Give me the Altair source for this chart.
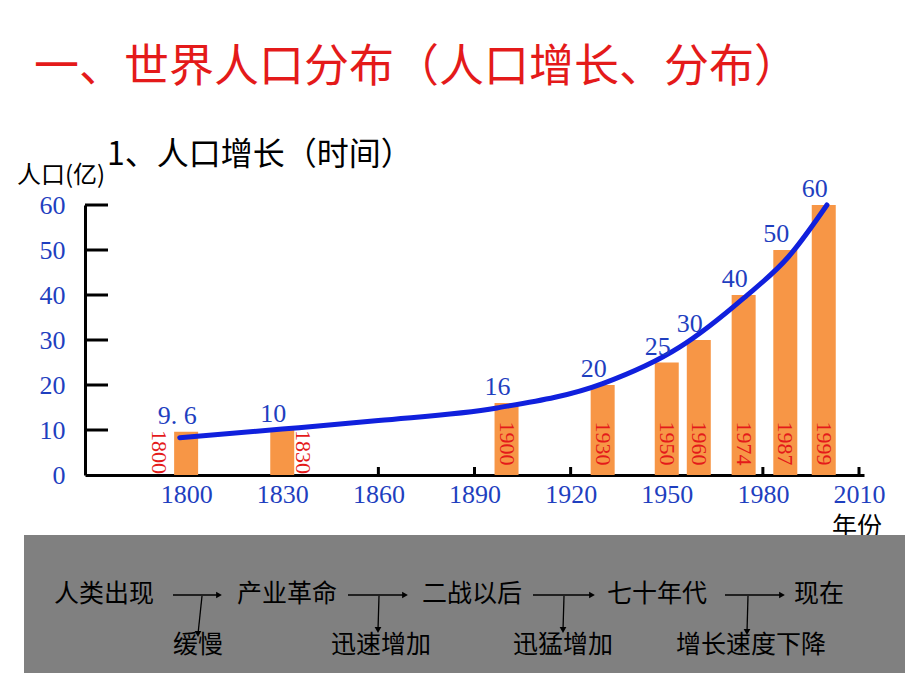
import altair as alt
import pandas as pd

# ---------------- data ----------------
years = [1800, 1830, 1900, 1930, 1950, 1960, 1974, 1987, 1999]
population = [9.6, 10, 16, 20, 25, 30, 40, 50, 60]
value_labels = ["9. 6", "10", "16", "20", "25", "30", "40", "50", "60"]
year_labels = ["1800", "1830", "1900", "1930", "1950", "1960", "1974", "1987", "1999"]

curve_years = [1798, 1830, 1860, 1897, 1930, 1954, 1974, 1988, 2000]
curve_values = [8.3, 10.2, 12.1, 14.9, 20.3, 28.4, 39.3, 48.5, 60]

x_tick_values = [1800, 1830, 1860, 1890, 1920, 1950, 1980, 2010]
y_tick_values = [0, 10, 20, 30, 40, 50, 60]

stage_labels = ["人类出现", "产业革命", "二战以后", "七十年代", "现在"]
rate_labels = ["缓慢", "迅速增加", "迅猛增加", "增长速度下降"]

# ---------------- styles ----------------
BLUE_TXT = "#1f3fbf"
CURVE = "#1020dd"
ORANGE = "#f79646"
RED = "#e41a1a"
CJK = "Noto Sans CJK SC"
SERIF = "Liberation Serif"

W, H = 779, 270

bars_df = pd.DataFrame({"year": years, "pop": population,
                        "vlabel": value_labels, "ylabel": year_labels})
curve_df = pd.DataFrame({"year": curve_years, "pop": curve_values})
xt_df = pd.DataFrame({"year": x_tick_values})
yt_df = pd.DataFrame({"pop": y_tick_values[1:]})

x_axis = alt.Axis(values=x_tick_values, format="d", title=None, ticks=False, grid=False,
                  labelPadding=6, labelFont=SERIF, labelFontSize=26, labelColor=BLUE_TXT,
                  domainColor="black", domainWidth=3)
y_axis = alt.Axis(values=y_tick_values, title=None, ticks=False, grid=False,
                  labelPadding=20, labelFont=SERIF, labelFontSize=26, labelColor=BLUE_TXT,
                  domainColor="black", domainWidth=3)
x_scale = alt.Scale(domain=[1770, 2010], nice=False, zero=False)
y_scale = alt.Scale(domain=[0, 60], nice=False)

X = alt.X("year:Q", scale=x_scale, axis=x_axis)
Y = alt.Y("pop:Q", scale=y_scale, axis=y_axis)

one = pd.DataFrame({"k": [0]})

# gray box
box = alt.Chart(one).mark_rect(color="#808080").encode(
    x=alt.value(-61), x2=alt.value(820), y=alt.value(330), y2=alt.value(468))

def label(text, x, y, size, color="black", align="left", font=CJK, weight="normal"):
    return alt.Chart(one).mark_text(align=align, baseline="middle", fontSize=size,
                                    color=color, font=font, fontWeight=weight).encode(
        x=alt.value(x), y=alt.value(y), text=alt.value(text))

title = label("一、世界人口分布（人口增长、分布）", -51, -137, 45, RED)
subtitle = label("1、人口增长（时间）", 22, -50, 32)
ytitle = label("人口(亿)", -68, -29, 24)
xtitle = label("年份", 747, 322, 25)

# axis ticks drawn inward
yticks = alt.Chart(yt_df).mark_rule(color="black", strokeWidth=3).encode(
    y=Y, x=alt.value(0), x2=alt.value(23))
xticks = alt.Chart(xt_df).mark_rule(color="black", strokeWidth=3).encode(
    x=X, y=alt.value(H), y2=alt.value(H - 8))

bars = alt.Chart(bars_df).mark_bar(color=ORANGE, size=24).encode(x=X, y=Y)

curve = alt.Chart(curve_df).mark_line(interpolate="monotone", color=CURVE,
                                      strokeWidth=5, strokeCap="round").encode(x=X, y=Y)

vlabels = alt.Chart(bars_df).mark_text(font=SERIF, fontSize=26, color=BLUE_TXT,
                                       baseline="middle", dx=-9, dy=-16).encode(
    x=X, y=Y, text="vlabel:N")

inside = alt.Chart(bars_df).transform_filter(alt.datum.year > 1850).mark_text(
    font=SERIF, fontSize=22, color=RED, angle=90, baseline="middle").encode(
    x=X, y=alt.datum(7), text="ylabel:N")
left_lab = alt.Chart(bars_df).transform_filter(alt.datum.year == 1800).mark_text(
    font=SERIF, fontSize=22, color=RED, angle=90, baseline="middle", dy=27).encode(
    x=X, y=alt.datum(5.1), text="ylabel:N")
right_lab = alt.Chart(bars_df).transform_filter(alt.datum.year == 1830).mark_text(
    font=SERIF, fontSize=22, color=RED, angle=90, baseline="middle", dy=-21).encode(
    x=X, y=alt.datum(5.1), text="ylabel:N")

# flow diagram (layout in pixels)
stage_x = [19, 202, 387, 572, 734]
rate_x = [113, 296, 478, 666]
flow_text_df = pd.DataFrame({
    "px": stage_x + rate_x,
    "py": [389] * 5 + [440] * 4,
    "t": stage_labels + rate_labels,
})
flow_text = alt.Chart(flow_text_df).mark_text(font=CJK, fontSize=25, color="black",
                                              baseline="middle").encode(
    x=alt.X("px:Q", scale=None), y=alt.Y("py:Q", scale=None), text="t:N")

h_df = pd.DataFrame({"x1": [88, 263, 448, 640], "x2": [134, 320, 507, 697],
                     "y1": [390] * 4, "y2": [390] * 4})
v_df = pd.DataFrame({"x1": [117, 294, 479, 663], "x2": [113, 293, 478, 662],
                     "y1": [391] * 4, "y2": [429, 425, 425, 427]})
arrows_h = alt.Chart(h_df).mark_rule(color="black", strokeWidth=1.3).encode(
    x=alt.X("x1:Q", scale=None), x2="x2:Q", y=alt.Y("y1:Q", scale=None), y2="y2:Q")
arrows_v = alt.Chart(v_df).mark_rule(color="black", strokeWidth=1.3).encode(
    x=alt.X("x1:Q", scale=None), x2="x2:Q", y=alt.Y("y1:Q", scale=None), y2="y2:Q")
heads_h = alt.Chart(h_df).mark_point(shape="triangle-right", filled=True, size=45,
                                     color="black", opacity=1).encode(
    x=alt.X("x2:Q", scale=None), y=alt.Y("y2:Q", scale=None))
heads_v = alt.Chart(v_df).mark_point(shape="triangle-down", filled=True, size=45,
                                     color="black", opacity=1).encode(
    x=alt.X("x2:Q", scale=None), y=alt.Y("y2:Q", scale=None))

chart = alt.layer(
    title, subtitle, ytitle, xtitle, box,
    xticks, yticks, bars, curve, vlabels, inside, left_lab, right_lab,
    arrows_h, arrows_v, heads_h, heads_v, flow_text,
).properties(
    width=W, height=H,
    autosize=alt.AutoSizeParams(type="none"),
    padding={"left": 77, "top": 197, "right": 45, "bottom": 205},
    background="white",
).configure_view(stroke=None)

chart.save("out.html", embed_options={"renderer": "svg", "actions": False})
